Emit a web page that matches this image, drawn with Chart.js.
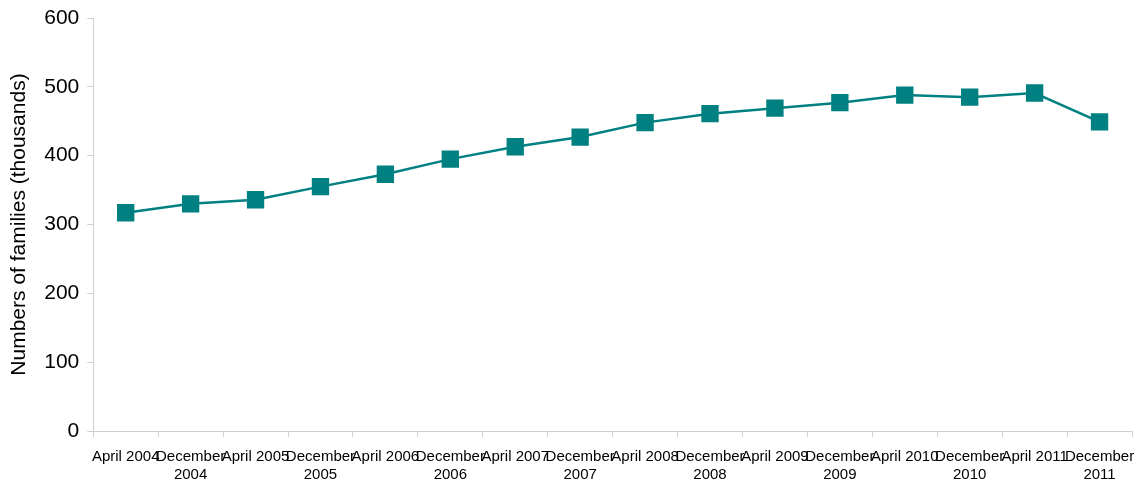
<!DOCTYPE html>
<html>
<head>
<meta charset="utf-8">
<script src="https://cdn.jsdelivr.net/npm/chart.js@4"></script>
<style>
    body { margin: 0; background: #fff; }
    #wrap { width: 1140px; height: 484px; }
</style>
</head>
<body>
<div id="wrap"><canvas id="displayChart"></canvas></div>
<script>
const periods = [
    'April 2004', ['December', '2004'], 'April 2005', ['December', '2005'],
    'April 2006', ['December', '2006'], 'April 2007', ['December', '2007'],
    'April 2008', ['December', '2008'], 'April 2009', ['December', '2009'],
    'April 2010', ['December', '2010'], 'April 2011', ['December', '2011']
];
const families = [317, 330, 336, 355, 373, 395, 413, 427, 448, 461, 469, 477, 488, 485, 491, 449];
const yTicks = [0, 100, 200, 300, 400, 500, 600];

const teal = '#008080';
const axisGrey = '#d0d0d0';

var ctx = document.getElementById('displayChart').getContext('2d');
new Chart(ctx, {
    type: 'line',
    data: {
        labels: periods,
        datasets: [{
            label: 'Families',
            data: families,
            borderColor: teal,
            backgroundColor: teal,
            borderWidth: 2.5,
            pointStyle: 'rect',
            pointRadius: 10.5,
            pointHoverRadius: 10.5,
            tension: 0
        }]
    },
    options: {
        responsive: true,
        maintainAspectRatio: false,
        animation: false,
        layout: { autoPadding: false, padding: { top: 18, right: 8, left: 7, bottom: 0 } },
        plugins: {
            legend: { display: false },
            tooltip: { enabled: false }
        },
        scales: {
            x: {
                offset: true,
                afterFit: (s) => {
                    // labels overlap in the original, so don't reserve room for them at the ends
                    s.paddingLeft = 0;
                    s.paddingRight = 0;
                    s.height = 53;
                },
                grid: {
                    offset: true,
                    drawOnChartArea: false,
                    color: axisGrey,
                    tickLength: 6
                },
                border: { color: axisGrey },
                ticks: {
                    autoSkip: false,
                    maxRotation: 0,
                    minRotation: 0,
                    color: '#000',
                    padding: 10,
                    font: { family: 'Liberation Sans, Arial', size: 15, lineHeight: 1.25 }
                }
            },
            y: {
                min: 0,
                max: 600,
                afterBuildTicks: (axis) => { axis.ticks = yTicks.map(v => ({ value: v })); },
                afterFit: (s) => {
                    s.paddingTop = 0;
                    s.paddingBottom = 0;
                },
                grid: {
                    drawOnChartArea: false,
                    color: axisGrey,
                    tickLength: 6
                },
                border: { color: axisGrey },
                ticks: {
                    color: '#000',
                    padding: 8,
                    font: { family: 'Liberation Sans, Arial', size: 21 }
                },
                title: {
                    display: true,
                    text: 'Numbers of families (thousands)',
                    color: '#000',
                    padding: { top: 0, bottom: 4 },
                    font: { family: 'Liberation Sans, Arial', size: 21 }
                }
            }
        }
    }
});
</script>
</body>
</html>
